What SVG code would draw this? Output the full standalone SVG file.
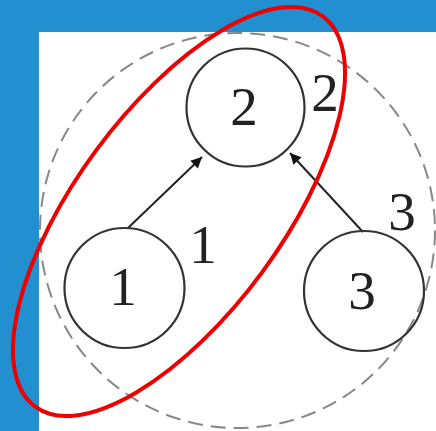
<svg xmlns="http://www.w3.org/2000/svg" width="436" height="431" viewBox="0 0 436 431">
<style>
.node{fill:none;stroke:#333;stroke-width:2.2}
.t{font-family:"Liberation Serif",serif;font-size:55px;fill:#222;text-anchor:middle}
.edge{stroke:#222;stroke-width:2;fill:none}
</style>
<defs>
<marker id="ah" viewBox="0 0 10 10" refX="10" refY="5" markerWidth="14" markerHeight="11" orient="auto" markerUnits="userSpaceOnUse">
<path d="M0,0 L10,5 L0,10 z" fill="#111"/>
</marker>
</defs>
<rect x="0" y="0" width="436" height="431" fill="#228fd0"/>
<rect x="39" y="32" width="397" height="399" fill="#fff"/>
<circle cx="237.5" cy="230.5" r="197.5" fill="none" stroke="#888" stroke-width="2" stroke-dasharray="15 8"/>
<g id="connectors">
<line class="edge" x1="128" y1="228" x2="202" y2="157" marker-end="url(#ah)"/>
<line class="edge" x1="363" y1="232" x2="290" y2="153" marker-end="url(#ah)"/>
</g>
<g id="node2">
<circle class="node" cx="245.5" cy="107.5" r="59"/>
<text class="t" x="244" y="125">2</text>
<text class="t" x="325" y="111">2</text>
</g>
<g id="node1">
<circle class="node" cx="124.5" cy="288" r="60"/>
<text class="t" x="123" y="305">1</text>
<text class="t" x="203" y="263">1</text>
</g>
<g id="node3">
<circle class="node" cx="364" cy="291" r="60"/>
<text class="t" x="362" y="309">3</text>
<text class="t" x="402" y="230">3</text>
</g>
<ellipse cx="179" cy="211.5" rx="242.4" ry="103" transform="rotate(-53.6 179 211.5)" fill="none" stroke="#ee0000" stroke-width="4"/>
</svg>
